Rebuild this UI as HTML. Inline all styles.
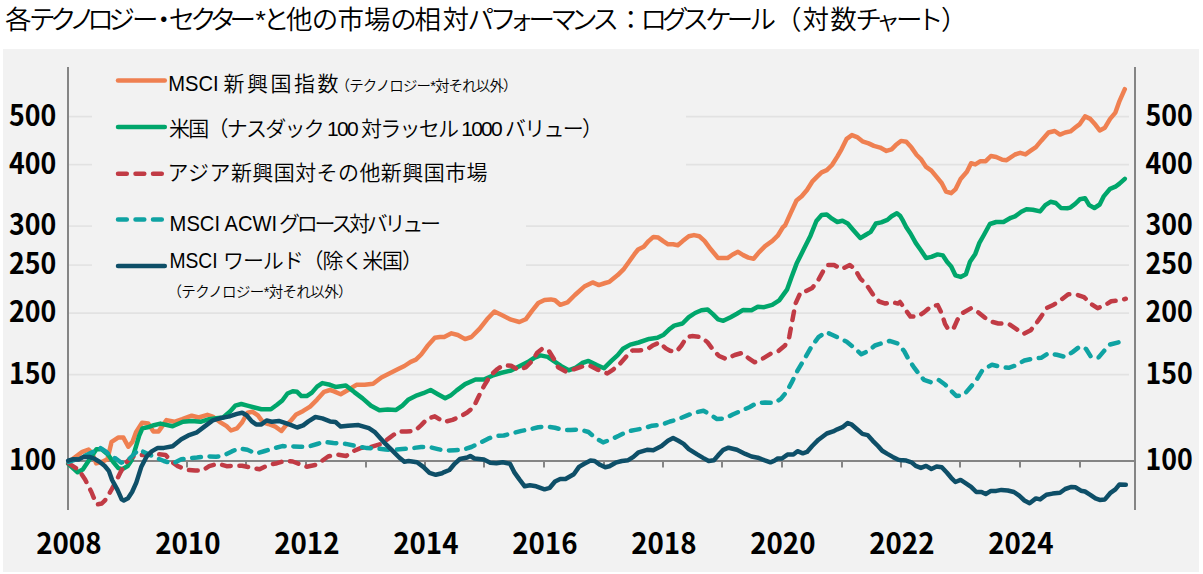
<!DOCTYPE html>
<html lang="ja"><head><meta charset="utf-8">
<style>
html,body{margin:0;padding:0;background:#fff;}
body{width:1203px;height:574px;overflow:hidden;position:relative;}
svg{position:absolute;left:0;top:0;}
.t{font-family:"Liberation Sans","Noto Sans CJK JP",sans-serif;}
</style></head><body>
<svg width="1203" height="574" viewBox="0 0 1203 574">
<rect x="3" y="49" width="1196" height="523" fill="#F2F2F2"/>
<text class="t" x="5.0 29.1 49.9 69.1 87.2 108.4 131.9 150.4 168.8 190.2 209.7 229.6 255.6 262.9 286.0 311.8 337.6 364.1 390.2 414.6 442.4 467.6 490.1 509.4 528.5 550.5 571.1 592.6 617.5 640.6 662.1 682.6 705.2 726.8 749.5 775.0 802.5 830.3 855.4 875.9 895.9 916.9 941.1" y="29.4" font-size="26.5" fill="#000" font-weight="350">各テクノロジー・セクター*と他の市場の相対パフ<tspan font-size="24">ォ</tspan>ーマンス：ログスケール（対数チ<tspan font-size="24">ャ</tspan>ート）</text>
<g stroke="#E2E2E2" stroke-width="1.6"><line x1="69" y1="116.6" x2="92" y2="116.6"/><line x1="686" y1="116.6" x2="1129" y2="116.6"/><line x1="69" y1="164.6" x2="92" y2="164.6"/><line x1="686" y1="164.6" x2="1129" y2="164.6"/><line x1="69" y1="226.1" x2="92" y2="226.1"/><line x1="526" y1="226.1" x2="1129" y2="226.1"/><line x1="69" y1="265.1" x2="92" y2="265.1"/><line x1="526" y1="265.1" x2="1129" y2="265.1"/><line x1="69" y1="313.1" x2="1129" y2="313.1"/><line x1="69" y1="374.6" x2="1129" y2="374.6"/></g>
<g stroke="#858585" stroke-width="2" fill="none">
<line x1="68" y1="67" x2="68" y2="510"/>
<line x1="1135" y1="67" x2="1135" y2="510"/>
<line x1="67" y1="461" x2="1136" y2="461"/>
<line x1="128" y1="461" x2="128" y2="467.5"/><line x1="187" y1="461" x2="187" y2="467.5"/><line x1="246" y1="461" x2="246" y2="467.5"/><line x1="306" y1="461" x2="306" y2="467.5"/><line x1="366" y1="461" x2="366" y2="467.5"/><line x1="425" y1="461" x2="425" y2="467.5"/><line x1="484" y1="461" x2="484" y2="467.5"/><line x1="544" y1="461" x2="544" y2="467.5"/><line x1="604" y1="461" x2="604" y2="467.5"/><line x1="663" y1="461" x2="663" y2="467.5"/><line x1="722" y1="461" x2="722" y2="467.5"/><line x1="782" y1="461" x2="782" y2="467.5"/><line x1="842" y1="461" x2="842" y2="467.5"/><line x1="901" y1="461" x2="901" y2="467.5"/><line x1="960" y1="461" x2="960" y2="467.5"/><line x1="1020" y1="461" x2="1020" y2="467.5"/><line x1="1080" y1="461" x2="1080" y2="467.5"/>
</g>
<g font-family="'Noto Sans CJK JP',sans-serif" font-size="29" font-weight="bold" fill="#000"><text x="8.9" y="125.7" textLength="47.3" lengthAdjust="spacingAndGlyphs">500</text><text x="1145.4" y="125.7" textLength="47.3" lengthAdjust="spacingAndGlyphs">500</text><text x="8.9" y="173.5" textLength="47.3" lengthAdjust="spacingAndGlyphs">400</text><text x="1145.4" y="173.5" textLength="47.3" lengthAdjust="spacingAndGlyphs">400</text><text x="8.9" y="235.1" textLength="47.3" lengthAdjust="spacingAndGlyphs">300</text><text x="1145.4" y="235.1" textLength="47.3" lengthAdjust="spacingAndGlyphs">300</text><text x="8.9" y="274.1" textLength="47.3" lengthAdjust="spacingAndGlyphs">250</text><text x="1145.4" y="274.1" textLength="47.3" lengthAdjust="spacingAndGlyphs">250</text><text x="8.9" y="321.9" textLength="47.3" lengthAdjust="spacingAndGlyphs">200</text><text x="1145.4" y="321.9" textLength="47.3" lengthAdjust="spacingAndGlyphs">200</text><text x="8.9" y="383.5" textLength="47.3" lengthAdjust="spacingAndGlyphs">150</text><text x="1145.4" y="383.5" textLength="47.3" lengthAdjust="spacingAndGlyphs">150</text><text x="8.9" y="470.3" textLength="47.3" lengthAdjust="spacingAndGlyphs">100</text><text x="1145.4" y="470.3" textLength="47.3" lengthAdjust="spacingAndGlyphs">100</text><text x="36.2" y="553.6" textLength="65.3" lengthAdjust="spacingAndGlyphs">2008</text><text x="155.2" y="553.6" textLength="65.3" lengthAdjust="spacingAndGlyphs">2010</text><text x="274.2" y="553.6" textLength="65.3" lengthAdjust="spacingAndGlyphs">2012</text><text x="393.2" y="553.6" textLength="65.3" lengthAdjust="spacingAndGlyphs">2014</text><text x="512.2" y="553.6" textLength="65.3" lengthAdjust="spacingAndGlyphs">2016</text><text x="631.2" y="553.6" textLength="65.3" lengthAdjust="spacingAndGlyphs">2018</text><text x="750.2" y="553.6" textLength="65.3" lengthAdjust="spacingAndGlyphs">2020</text><text x="869.2" y="553.6" textLength="65.3" lengthAdjust="spacingAndGlyphs">2022</text><text x="988.2" y="553.6" textLength="65.3" lengthAdjust="spacingAndGlyphs">2024</text></g>
<g fill="none" stroke-width="4.5" stroke-linejoin="round" stroke-linecap="round">
<polyline stroke="#EF8051" points="68.6,462.0 75.3,457.1 82.3,451.8 88.6,449.5 92.1,453.0 96.2,463.4 101.8,462.0 107.4,459.2 111.6,441.8 118.5,437.4 123.4,437.6 128.3,446.7 132.5,441.8 136.0,432.3 142.1,422.7 148.2,423.6 153.4,431.4 158.6,431.4 166.5,420.1 174.3,421.8 182.2,419.2 191.7,415.7 198.7,417.5 207.4,414.8 212.7,416.6 219.6,421.8 226.6,426.2 231.0,430.5 237.0,428.4 242.2,422.3 247.4,412.7 252.6,411.8 257.9,415.3 263.1,422.3 268.3,424.0 275.3,426.6 281.4,431.0 285.7,425.7 291.0,420.5 296.2,414.4 303.2,410.9 310.1,406.6 317.1,399.6 324.1,391.8 330.0,390.0 333.4,391.1 340.7,394.2 348.0,390.0 356.4,384.8 364.7,384.8 373.1,383.8 381.4,377.5 389.8,373.3 398.2,369.1 404.4,366.0 410.7,361.8 415.9,359.7 421.2,354.5 427.4,346.1 434.8,337.8 440.0,337.0 444.2,337.0 451.5,333.3 457.8,335.0 465.1,339.1 471.4,337.0 479.7,328.7 487.0,319.3 494.4,311.5 502.7,315.5 511.1,319.7 519.4,322.0 525.7,319.3 532.0,310.9 538.3,303.0 544.5,300.0 550.8,299.4 555.0,300.2 560.2,304.8 567.5,302.3 574.9,295.0 584.3,286.6 592.6,282.4 598.9,285.1 605.2,283.0 609.4,281.8 617.7,275.1 624.0,268.8 629.2,261.5 634.4,254.2 638.1,249.5 643.7,246.7 648.6,241.1 653.4,236.9 658.3,237.6 663.2,241.1 668.1,244.3 673.0,244.3 677.8,245.3 682.7,241.1 688.8,236.3 694.0,235.1 699.3,236.3 704.5,240.9 710.8,249.3 718.1,258.1 727.5,258.1 732.7,254.5 738.0,251.8 743.2,255.1 748.4,257.6 753.6,258.7 758.9,252.4 765.1,246.1 772.4,240.9 777.7,235.7 782.9,227.3 785.0,225.6 790.2,214.1 796.5,200.5 801.7,196.3 807.0,190.0 812.2,181.7 817.4,176.4 821.6,172.3 826.8,170.2 832.0,165.0 837.3,156.6 841.5,149.3 846.7,138.8 851.9,135.1 857.1,137.1 862.4,141.3 868.6,143.4 873.9,145.9 880.1,147.6 886.4,150.9 891.6,149.3 895.8,145.1 901.0,140.9 906.3,141.8 911.5,147.6 916.7,155.0 920.9,159.1 926.1,166.9 931.4,170.6 936.6,176.9 941.8,183.2 946.0,191.5 951.2,193.2 955.4,189.4 960.6,179.0 966.9,171.7 971.1,163.3 975.3,164.4 980.5,161.2 985.7,161.2 990.9,156.0 996.2,157.0 1002.4,159.8 1006.6,160.2 1015.0,154.5 1020.2,152.8 1025.5,154.4 1030.7,150.7 1035.9,147.1 1041.1,140.9 1048.5,132.5 1054.7,131.0 1060.0,134.6 1065.2,132.5 1070.4,131.4 1075.6,127.3 1079.8,124.1 1085.0,116.4 1090.3,118.9 1095.5,124.8 1099.7,130.4 1104.9,127.7 1110.1,118.9 1115.4,112.6 1119.5,101.1 1124.8,89.2"/>
<polyline stroke="#00A66B" points="68.2,463.9 77.6,472.3 82.8,469.5 88.0,461.8 96.4,449.3 101.6,449.3 107.9,454.5 113.1,461.8 118.3,468.1 122.5,469.1 127.7,466.0 131.9,459.7 136.1,446.1 139.2,435.7 142.4,428.4 147.6,427.3 153.9,425.2 160.4,423.6 172.6,426.2 183.0,421.8 191.7,420.9 200.5,421.8 209.2,419.2 216.1,418.3 223.1,417.5 230.1,411.4 235.2,405.7 241.3,404.0 247.4,405.7 254.4,407.5 261.4,409.2 270.9,409.2 277.0,404.8 282.3,400.5 287.5,393.5 292.7,391.3 297.1,391.8 301.4,396.1 306.7,396.1 311.9,392.6 317.1,386.6 322.3,383.1 330.0,384.8 335.5,386.9 345.9,385.4 354.3,392.1 362.6,398.4 371.0,405.7 379.4,410.3 387.7,409.5 396.1,409.9 402.4,405.7 408.6,399.4 417.0,395.3 423.3,393.2 430.6,390.0 437.9,394.2 445.2,398.3 450.5,395.6 456.7,390.4 465.1,384.1 475.5,379.5 483.9,379.5 492.3,375.7 500.6,373.0 511.1,370.5 519.4,366.3 527.8,362.1 534.1,358.0 540.4,355.4 547.7,356.9 553.9,361.1 561.3,366.1 568.6,370.3 575.9,367.6 582.2,363.0 588.5,360.9 596.8,365.1 604.1,368.2 611.4,360.9 617.7,355.1 623.0,348.8 630.3,344.6 638.6,342.5 649.1,338.9 657.4,337.8 663.7,334.7 670.0,328.7 674.2,325.6 682.5,323.5 688.8,317.2 695.1,313.0 701.4,310.3 707.6,309.5 712.9,314.1 718.1,319.3 723.3,320.8 730.6,317.2 736.9,313.7 743.2,309.9 751.5,310.3 757.8,306.8 764.1,307.2 772.2,304.8 779.2,300.3 787.0,289.7 791.4,277.5 796.6,263.6 803.6,249.6 810.5,235.7 816.4,221.0 821.6,215.1 826.8,214.5 832.0,218.7 837.3,222.0 842.5,220.8 847.7,223.5 853.0,229.8 860.3,238.1 865.5,235.0 870.7,231.9 875.9,223.5 881.2,222.4 887.4,219.9 891.6,216.2 896.9,213.2 900.0,215.7 903.1,220.9 906.3,227.2 910.5,233.5 915.7,242.9 920.9,250.2 926.1,258.1 931.4,256.9 937.6,254.4 942.9,255.4 947.0,261.7 951.2,266.5 955.4,275.3 960.6,276.9 965.9,274.2 970.0,261.7 975.3,253.9 979.4,242.9 983.6,235.5 989.9,224.0 996.2,222.0 1003.5,222.0 1010.8,217.8 1015.0,216.4 1021.3,211.8 1026.5,209.3 1032.8,209.7 1040.1,211.4 1045.3,205.1 1050.5,201.8 1055.8,203.0 1061.0,208.0 1067.3,208.3 1070.4,207.6 1075.6,203.5 1079.8,199.3 1085.0,198.2 1089.2,205.1 1094.4,208.0 1099.7,204.5 1103.9,196.1 1110.1,188.8 1115.4,186.7 1119.5,183.6 1124.8,178.8"/>
<polyline stroke="#C13B45" stroke-dasharray="8.8 8.7" points="68.6,463.4 78.8,470.0 85.1,479.4 91.4,492.0 96.6,504.5 101.8,503.5 105.0,500.4 110.2,492.0 115.4,482.6 120.6,472.1 125.9,462.7 131.1,457.5 137.7,454.9 146.5,454.9 156.9,454.0 165.6,454.9 170.8,461.0 177.8,466.2 186.5,469.7 195.2,470.6 202.2,470.6 209.2,466.2 217.9,463.6 226.6,466.2 233.5,465.8 242.2,465.8 250.9,467.6 259.6,469.3 268.3,465.0 277.0,463.2 285.7,460.6 292.7,461.5 299.7,464.1 306.7,466.7 315.4,465.0 322.3,460.6 328.1,456.5 336.5,454.4 345.9,456.0 353.2,451.2 360.5,448.1 371.0,447.0 381.4,443.9 389.8,437.6 398.2,431.4 406.5,431.4 414.9,430.9 421.2,425.1 427.4,418.8 434.8,416.3 442.1,420.9 444.2,422.0 452.5,419.9 459.9,416.7 467.2,412.5 473.5,407.3 477.6,398.7 483.9,386.2 490.2,375.7 497.5,369.0 502.7,365.3 511.1,365.7 518.4,369.9 525.7,367.4 532.0,361.1 537.2,352.7 542.4,348.5 548.7,350.6 553.9,359.0 558.1,367.2 565.5,371.4 573.8,369.3 581.1,366.8 589.5,365.5 596.8,369.3 607.3,373.5 613.5,369.3 619.8,364.0 626.1,356.7 632.4,350.5 638.6,350.5 647.0,349.4 653.3,345.2 659.5,342.5 665.8,348.4 670.0,350.8 676.3,351.8 681.5,345.5 686.7,337.2 692.0,336.1 701.4,337.2 707.6,342.4 713.9,350.8 719.1,356.0 726.4,359.1 734.8,355.0 742.1,352.9 748.4,358.1 754.7,362.3 762.0,359.1 770.4,353.9 778.7,350.8 785.0,345.5 789.2,337.2 792.3,320.5 795.5,303.6 800.7,292.1 805.9,291.1 812.2,288.0 818.5,279.6 823.7,270.2 827.9,265.0 834.1,265.0 841.5,269.1 849.8,265.0 855.0,269.1 860.3,278.5 866.5,284.8 872.8,294.2 879.1,301.5 885.4,303.6 891.6,302.0 897.9,303.6 900.0,302.0 905.2,309.3 910.5,316.6 917.8,316.6 924.0,312.4 931.4,306.1 937.6,305.1 941.8,313.5 945.0,323.9 948.1,329.1 953.3,329.1 957.5,319.7 962.7,313.0 971.1,308.2 978.4,312.4 984.7,317.6 992.0,321.8 998.3,323.5 1008.7,323.9 1015.0,328.1 1023.4,333.9 1030.7,330.2 1035.9,323.9 1041.1,316.6 1046.4,308.2 1053.7,304.7 1061.0,299.9 1068.3,294.2 1075.6,294.2 1084.0,297.1 1090.3,303.4 1097.6,308.2 1104.9,305.1 1111.2,301.3 1118.5,300.5 1125.8,298.8"/>
<polyline stroke="#0FA3A3" stroke-dasharray="8.8 8.7" points="68.6,462.0 82.3,457.1 92.1,452.3 100.4,448.1 106.0,451.6 111.6,457.1 115.7,458.5 121.3,462.7 125.5,461.3 129.7,458.5 135.3,453.0 138.6,449.7 146.5,453.2 155.2,457.5 163.9,461.0 172.6,463.6 181.3,459.3 188.3,458.4 197.0,457.5 205.7,456.3 216.1,456.7 223.1,455.8 231.8,451.4 238.7,448.4 247.4,449.8 256.1,453.6 264.8,451.0 273.6,448.4 282.3,446.1 291.0,446.3 299.7,446.7 308.4,446.7 317.1,444.0 324.1,441.8 333.4,442.9 345.9,443.9 356.4,446.0 366.8,448.1 377.3,448.5 385.6,449.6 394.0,449.8 402.4,449.1 412.8,448.1 421.2,447.0 429.5,447.0 437.9,449.1 444.2,450.6 454.6,450.2 463.0,449.8 471.4,447.0 479.7,442.9 488.1,438.7 495.4,436.0 503.8,435.5 513.2,433.0 521.5,430.9 529.9,429.3 538.3,427.2 546.6,426.6 555.0,427.8 563.4,429.9 570.7,429.9 580.1,429.5 588.5,432.0 595.8,438.3 603.1,442.4 611.4,439.3 618.8,435.8 627.1,431.6 635.5,429.9 643.9,428.2 652.2,425.7 661.6,424.7 670.0,421.5 678.4,419.1 686.7,415.6 695.1,412.4 703.5,410.8 709.7,414.1 717.0,419.1 725.4,418.3 732.7,414.5 742.1,410.4 749.4,407.2 756.8,403.0 765.1,402.6 774.5,403.0 780.8,398.9 786.0,392.6 791.3,383.2 797.5,370.6 804.9,358.1 812.2,345.5 818.5,337.2 825.8,332.0 832.0,334.7 839.4,338.2 846.7,341.8 854.0,347.6 861.3,354.3 868.6,350.8 874.9,345.5 881.2,343.5 889.5,340.9 897.9,343.5 904.2,351.1 908.4,359.0 913.6,366.8 918.8,373.7 924.0,379.9 931.4,382.4 938.7,379.9 945.0,384.5 950.2,389.8 956.4,396.0 963.8,395.0 970.0,387.7 976.3,380.4 982.6,369.9 992.0,364.7 1000.4,366.8 1008.7,367.8 1015.0,365.7 1024.4,360.5 1033.8,358.4 1041.1,357.8 1048.5,353.2 1056.8,354.8 1065.2,356.9 1072.5,352.1 1079.8,346.5 1086.1,349.0 1091.3,357.4 1098.6,357.4 1103.9,351.1 1109.1,344.8 1118.5,342.3"/>
<polyline stroke="#0E4F68" points="68.2,460.7 73.4,459.2 78.6,459.5 83.3,457.1 90.1,457.1 94.3,458.7 99.5,461.8 104.8,466.0 109.0,471.2 112.1,480.0 117.5,489.9 121.7,499.3 123.8,500.4 128.0,498.3 132.1,492.0 136.3,482.6 141.2,467.1 146.5,456.7 151.7,451.4 157.8,447.9 163.9,447.9 172.6,446.2 181.3,439.2 188.3,435.4 197.0,432.3 205.7,425.6 212.7,420.4 219.6,418.3 228.3,416.6 230.0,416.2 237.0,413.9 242.2,412.7 246.6,415.3 251.8,421.4 256.1,424.4 261.4,424.4 266.6,420.5 271.8,421.7 278.8,420.9 285.7,423.1 291.8,425.4 297.1,427.5 303.2,425.4 308.4,421.4 315.4,417.0 322.3,418.4 330.0,421.4 335.5,422.0 340.7,426.6 348.0,425.7 358.5,425.1 368.9,428.2 375.2,432.4 383.5,441.8 391.9,450.2 399.2,457.5 404.4,461.7 408.6,461.0 417.0,462.3 423.3,466.9 429.5,472.8 435.8,474.8 442.1,473.2 444.2,472.1 449.4,470.0 454.6,463.8 459.9,459.0 467.2,457.5 470.3,456.0 474.5,458.5 483.9,459.6 490.2,462.7 496.4,463.3 502.7,462.3 510.0,463.8 514.2,472.1 519.4,479.4 524.7,486.3 529.9,485.3 536.2,486.3 544.5,489.3 549.8,487.8 555.0,481.5 560.2,479.0 565.5,479.0 573.8,474.2 579.0,466.9 584.3,463.8 590.5,460.6 594.7,461.0 600.0,464.8 605.2,467.3 609.4,466.3 615.6,462.7 621.9,461.0 628.2,460.2 633.4,456.9 638.6,452.3 647.0,449.8 653.3,450.2 661.6,446.0 667.9,440.8 673.1,438.0 678.4,440.8 683.6,443.9 688.8,449.1 697.2,454.4 703.5,458.1 708.7,461.0 713.9,460.2 718.1,455.4 723.3,449.8 728.5,447.7 736.9,449.8 745.3,453.9 751.5,456.5 757.8,457.7 764.1,460.2 770.4,462.3 774.5,460.6 777.7,458.5 781.9,458.5 787.1,454.8 788.1,454.4 793.4,454.4 797.5,451.2 802.8,453.3 807.0,451.9 812.2,446.0 818.5,439.7 826.8,433.5 833.1,431.4 837.3,429.3 842.5,427.2 847.7,423.0 851.9,424.7 857.1,429.3 862.4,433.9 867.6,435.1 872.8,440.8 878.0,446.0 882.2,450.8 887.4,453.9 892.7,456.9 897.9,459.6 900.0,460.0 906.3,460.6 911.5,462.3 915.7,465.9 920.9,467.9 926.1,465.9 931.4,469.0 936.6,466.5 941.8,467.3 947.0,472.8 951.2,477.8 955.4,482.0 960.6,479.9 964.8,482.6 971.1,486.8 976.3,492.0 981.5,492.0 985.7,494.1 990.9,490.9 996.2,490.9 1001.4,489.9 1007.7,490.5 1013.9,492.0 1019.2,495.7 1024.4,500.5 1029.6,503.2 1035.9,498.4 1040.1,499.4 1046.4,494.8 1052.6,493.6 1060.0,492.8 1065.2,489.0 1071.5,486.9 1075.6,487.3 1080.9,490.7 1085.0,491.5 1090.3,494.8 1095.5,498.4 1099.7,499.9 1104.9,499.4 1110.1,493.2 1115.4,489.4 1119.5,484.4 1125.8,484.8"/>
</g>
<g stroke-width="4.5" stroke-linecap="round">
<line x1="118" y1="80.5" x2="164.8" y2="80.5" stroke="#EF8051"/>
<line x1="118" y1="127" x2="164.8" y2="127" stroke="#00A66B"/>
<line x1="118" y1="173.7" x2="164.8" y2="173.7" stroke="#C13B45" stroke-dasharray="8.8 8.7"/>
<line x1="118" y1="219.5" x2="164.8" y2="219.5" stroke="#0FA3A3" stroke-dasharray="8.8 8.7"/>
<line x1="118" y1="266" x2="164.8" y2="266" stroke="#0E4F68"/>
</g>
<g class="t" font-size="21" fill="#000" font-weight="350">
<text x="168.3" y="91" font-size="22" textLength="50.4" lengthAdjust="spacingAndGlyphs">MSCI</text>
<text x="223.4" y="91" textLength="115" lengthAdjust="spacing">新興国指数</text>
<text x="335.6" y="91" font-size="14.5" textLength="182" lengthAdjust="spacing">（テクノロジー*対それ以外）</text>
<text x="169" y="135.5" textLength="434" lengthAdjust="spacing">米国（ナスダック 100 対ラッセル 1000 バリュー）</text>
<text x="167.5" y="180" textLength="320" lengthAdjust="spacing">アジア新興国対その他新興国市場</text>
<text x="169.6" y="230.8" font-size="22" textLength="107.5" lengthAdjust="spacingAndGlyphs">MSCI ACWI</text>
<text x="279" y="230.8" textLength="162" lengthAdjust="spacing">グロース対バリュー</text>
<text x="169.4" y="268.3" font-size="22" textLength="48.2" lengthAdjust="spacingAndGlyphs">MSCI</text>
<text x="223" y="268.3" textLength="200" lengthAdjust="spacing">ワールド（除く米国）</text>
<text x="167.5" y="296.5" font-size="14.5" textLength="185" lengthAdjust="spacing">（テクノロジー*対それ以外）</text>
</g>
</svg>
</body></html>
